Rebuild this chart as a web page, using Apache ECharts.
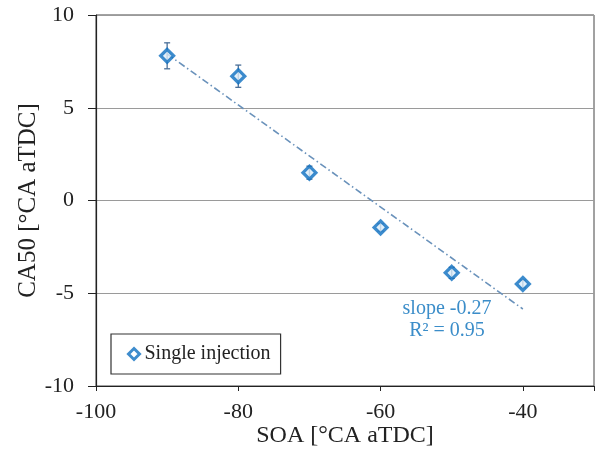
<!DOCTYPE html>
<html><head><meta charset="utf-8">
<script src="https://cdn.jsdelivr.net/npm/echarts@6/dist/echarts.min.js"></script>
<style>html,body{margin:0;padding:0;background:#fff}#c{width:597px;height:460px}</style>
</head><body><div id="c"></div>
<script>
const soa = [-90, -80, -70, -60, -50, -40];
const ca50 = [7.8, 6.7, 1.5, -1.45, -3.9, -4.5];
const errBar = [0.7, 0.6, 0.35, 0.2, 0.3, 0.2];
const trendX = [-90, -40];
const xTicks = [-100, -80, -60, -40];
const yTicks = [-10, -5, 0, 5, 10];

// least squares fit
const n = soa.length;
const mx = soa.reduce((a,b)=>a+b,0)/n, my = ca50.reduce((a,b)=>a+b,0)/n;
let sxy=0,sxx=0; for(let i=0;i<n;i++){sxy+=(soa[i]-mx)*(ca50[i]-my);sxx+=(soa[i]-mx)**2;}
const slope = sxy/sxx, icpt = my - slope*mx;
const trend = trendX.map(x=>[x, slope*x+icpt]);

const font = '"Liberation Serif", "DejaVu Serif", serif';
const blue = '#0e6fc0';
const chart = echarts.init(document.getElementById('c'));
chart.setOption({
  animation:false,
  grid:{left:96,right:3,top:15,bottom:74,show:true,borderColor:'#444',borderWidth:1},
  xAxis:{type:'value',min:-100,max:-30,interval:20,
    name:'SOA [°CA aTDC]',nameLocation:'middle',nameGap:38,nameMoveOverlap:false,
    nameTextStyle:{fontFamily:font,fontSize:24,color:'#222'},
    axisLine:{show:true,onZero:false,lineStyle:{color:'#222',width:1.2}},
    axisTick:{show:true,inside:false,length:5,lineStyle:{color:'#222'}},
    axisLabel:{fontFamily:font,fontSize:22,color:'#222',margin:15,
      formatter:v=>xTicks.includes(v)?String(v):''},
    splitLine:{show:false}},
  yAxis:{type:'value',min:-10,max:10,interval:5,
    name:'CA50 [°CA aTDC]',nameLocation:'middle',nameGap:55,nameMoveOverlap:false,
    nameTextStyle:{fontFamily:font,fontSize:25,color:'#222'},
    axisLine:{show:true,onZero:false,lineStyle:{color:'#222',width:1.2}},
    axisTick:{show:true,inside:false,length:8,lineStyle:{color:'#222'}},
    axisLabel:{fontFamily:font,fontSize:22,color:'#222',margin:22,
      formatter:v=>yTicks.includes(v)?String(v):''},
    splitLine:{show:true,lineStyle:{color:'#9a9a9a',width:1}}},
  legend:{show:true,left:111,top:334,
    padding:[10,10,10,16],borderColor:'#333',borderWidth:1.2,backgroundColor:'#fff',
    itemWidth:11,itemHeight:11,itemGap:4,
    textStyle:{fontFamily:font,fontSize:20,color:'#222'},
    data:[{name:'Single injection',icon:'path://M0,-1L1,0L0,1L-1,0Z',
      itemStyle:{color:'#fff',borderColor:blue,borderWidth:3}}]},
  series:[
    {type:'line',data:trend,symbol:'none',z:1,
      lineStyle:{color:'#6a92bb',width:1.6,type:[7,3,1.5,3]}},
    {type:'custom',z:3,data:soa.map((x,i)=>[x,ca50[i]-errBar[i],ca50[i]+errBar[i]]),
      renderItem:(params,api)=>{
        const lo=api.coord([api.value(0),api.value(1)]);
        const hi=api.coord([api.value(0),api.value(2)]);
        const c={stroke:'#4a6f98',lineWidth:1.3};
        return {type:'group',children:[
          {type:'line',shape:{x1:lo[0],y1:lo[1],x2:hi[0],y2:hi[1]},style:c},
          {type:'line',shape:{x1:lo[0]-3,y1:lo[1],x2:lo[0]+3,y2:lo[1]},style:c},
          {type:'line',shape:{x1:hi[0]-3,y1:hi[1],x2:hi[0]+3,y2:hi[1]},style:c}
        ]};
      }},
    {type:'scatter',name:'Single injection',z:4,data:soa.map((x,i)=>[x,ca50[i]]),
      symbol:'path://M0,-1L1,0L0,1L-1,0Z',symbolSize:13,
      itemStyle:{color:'#dcecf9',borderColor:blue,borderWidth:3.2}},
  ],
  graphic:[
    {type:'text',x:447,y:309,style:{text:'slope -0.27',fontFamily:font,fontSize:20,fill:'#3b8dc9',align:'center',verticalAlign:'middle'}},
    {type:'text',x:447,y:331,style:{text:'R² = 0.95',fontFamily:font,fontSize:20,fill:'#3b8dc9',align:'center',verticalAlign:'middle'}}
  ]
});
</script></body></html>
